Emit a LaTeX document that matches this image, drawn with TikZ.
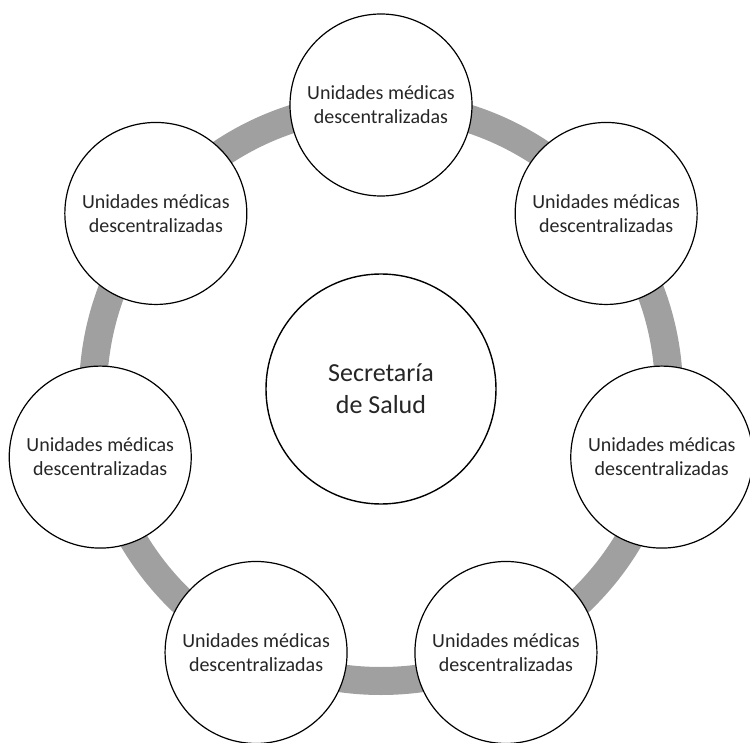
\documentclass[tikz,border=0pt]{standalone}
\usepackage{fontspec}
\setmainfont{Carlito}
\usetikzlibrary{calc}
\definecolor{ringgray}{RGB}{160,160,160}

\begin{document}
\begin{tikzpicture}[x=1pt,y=1pt,
  unit node/.style={circle,draw,fill=white,line width=1.2pt,minimum size=182pt,inner sep=0pt,align=center,text=black!85,font=\fontsize{20}{24}\selectfont},
  main node/.style={circle,draw,fill=white,line width=1.4pt,minimum size=230pt,inner sep=0pt,align=center,text=black!85,font=\fontsize{26}{32}\selectfont}]
    \useasboundingbox (0,0) rectangle (750,-743);
    \coordinate (ring) at (381,-393);
    \draw[ringgray,line width=28pt] (ring) circle (288pt);

    \node[main node] (0) at (381,-389) {Secretaría\\de Salud};
    \node[unit node] (1) at ($(ring)+(90:288pt)$) {Unidades médicas\\descentralizadas};
    \node[unit node] (2) at ($(ring)+(38.57:288pt)$) {Unidades médicas\\descentralizadas};
    \node[unit node] (3) at ($(ring)+(-12.86:288pt)$) {Unidades médicas\\descentralizadas};
    \node[unit node] (4) at ($(ring)+(-64.29:288pt)$) {Unidades médicas\\descentralizadas};
    \node[unit node] (5) at ($(ring)+(-115.71:288pt)$) {Unidades médicas\\descentralizadas};
    \node[unit node] (6) at ($(ring)+(-167.14:288pt)$) {Unidades médicas\\descentralizadas};
    \node[unit node] (7) at ($(ring)+(141.43:288pt)$) {Unidades médicas\\descentralizadas};
\end{tikzpicture}
\end{document}
